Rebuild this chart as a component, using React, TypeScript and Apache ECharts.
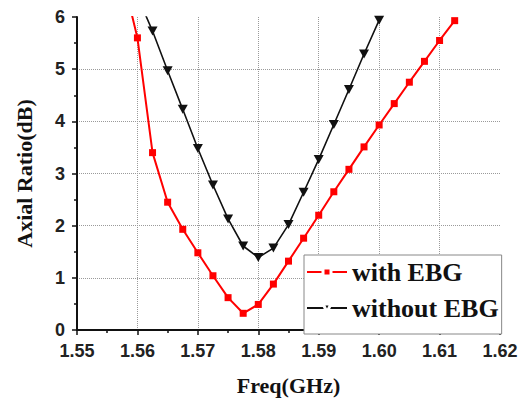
import React, { useEffect, useRef } from "react";
import * as echarts from "echarts";

const freqWith = [1.5575, 1.56, 1.5625, 1.565, 1.5675, 1.57, 1.5725, 1.575, 1.5775, 1.58, 1.5825, 1.585, 1.5875, 1.59, 1.5925, 1.595, 1.5975, 1.6, 1.6025, 1.605, 1.6075, 1.61, 1.6125];
const arWith = [6.8, 5.6, 3.4, 2.45, 1.93, 1.48, 1.04, 0.62, 0.32, 0.49, 0.88, 1.32, 1.76, 2.2, 2.65, 3.08, 3.51, 3.93, 4.34, 4.75, 5.15, 5.55, 5.93];
const freqWithout = [1.56, 1.5625, 1.565, 1.5675, 1.57, 1.5725, 1.575, 1.5775, 1.58, 1.5825, 1.585, 1.5875, 1.59, 1.5925, 1.595, 1.5975, 1.6];
const arWithout = [6.4, 5.73, 4.97, 4.23, 3.48, 2.78, 2.13, 1.61, 1.39, 1.57, 2.02, 2.64, 3.27, 3.94, 4.61, 5.29, 5.94];
const seriesNames = ["with EBG", "without EBG"];
const xTitle = "Freq(GHz)";
const yTitle = "Axial Ratio(dB)";

const sans = "'Liberation Sans', Arial, sans-serif";
const serif = "'Liberation Serif', 'Times New Roman', serif";

export default function App() {
  const ref = useRef<HTMLDivElement>(null);
  useEffect(() => {
    document.body.style.margin = "0";
    if (!ref.current) return;
    const chart = echarts.init(ref.current, null, { renderer: "svg" });
    const axisCommon = {
      type: "value" as const,
      axisLine: { show: true, onZero: false, lineStyle: { color: "#111", width: 2 } },
      axisTick: { show: true, inside: false, length: 5, lineStyle: { color: "#111", width: 1.5 } },
      minorTick: { show: true, splitNumber: 2, length: 3, lineStyle: { color: "#111", width: 1.5 } },
      splitLine: { show: true, showMinLine: false, showMaxLine: false, lineStyle: { type: "dotted", color: "#9a9a9a", width: 1 } },
      nameTextStyle: { fontFamily: serif, fontWeight: "bold", fontSize: 22, color: "#111" },
    };
    chart.setOption({
      animation: false,
      backgroundColor: "#fff",
      grid: { left: 77, right: 24, top: 17, bottom: 71, containLabel: false },
      xAxis: {
        ...axisCommon,
        min: 1.55,
        max: 1.62,
        interval: 0.01,
        name: xTitle,
        nameLocation: "middle",
        nameGap: 44,
        axisLabel: { fontFamily: sans, fontWeight: "bold", fontSize: 18, color: "#222", margin: 12, formatter: (v: number) => v.toFixed(2) },
      },
      yAxis: {
        ...axisCommon,
        min: 0,
        max: 6,
        interval: 1,
        name: yTitle,
        nameLocation: "middle",
        nameGap: 42,
        axisLabel: { fontFamily: sans, fontWeight: "bold", fontSize: 18, color: "#222", margin: 12 },
      },
      legend: {
        orient: "vertical",
        left: 304,
        top: 255,
        z: 10,
        backgroundColor: "#fff",
        borderColor: "#888",
        borderWidth: 1,
        padding: [4, 3, 13, 2],
        itemGap: 10,
        itemWidth: 40,
        itemHeight: 10,
        textStyle: { fontFamily: serif, fontWeight: "bold", fontSize: 26, color: "#111" },
        data: [
          { name: seriesNames[0], itemStyle: { borderColor: "#fff", borderWidth: 3 } },
          { name: seriesNames[1], itemStyle: { borderColor: "#fff", borderWidth: 3 } },
        ],
      },
      series: [
        {
          name: seriesNames[0],
          type: "line",
          data: freqWith.map((f, i) => [f, arWith[i]]),
          symbol: "rect",
          symbolSize: 7,
          clip: true,
          lineStyle: { color: "#ff0000", width: 2 },
          itemStyle: { color: "#ff0000" },
        },
        {
          name: seriesNames[1],
          type: "line",
          data: freqWithout.map((f, i) => [f, arWithout[i]]),
          symbol: "triangle",
          symbolRotate: 180,
          symbolSize: [10, 9],
          clip: true,
          lineStyle: { color: "#111", width: 1.6 },
          itemStyle: { color: "#111" },
        },
      ],
    });
    return () => chart.dispose();
  }, []);
  return <div ref={ref} style={{ width: 524, height: 401 }} />;
}
